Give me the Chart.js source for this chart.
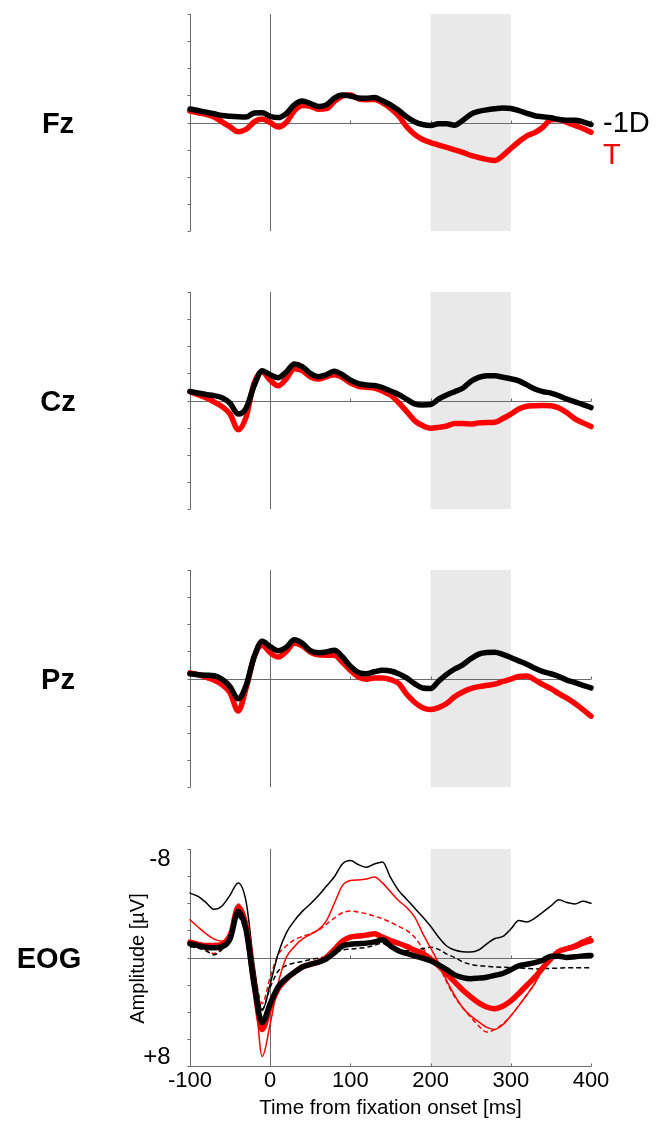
<!DOCTYPE html>
<html>
<head>
<meta charset="utf-8">
<script src="https://cdn.jsdelivr.net/npm/chart.js@4/dist/chart.umd.min.js"></script>
<style>
  html, body { margin: 0; padding: 0; background: #fff; }
  body { width: 667px; height: 1121px; position: relative; overflow: hidden; }
  canvas { position: absolute; left: 0; }
</style>
</head>
<body>
<canvas id="fz" width="667" height="245" style="top:0px"></canvas>
<canvas id="cz" width="667" height="245" style="top:278px"></canvas>
<canvas id="pz" width="667" height="245" style="top:556px"></canvas>
<canvas id="eog" width="667" height="286" style="top:835px"></canvas>
<script>
// time axis (ms from fixation onset), one value every 10 ms
const times = [-100, -90, -80, -70, -60, -50, -40, -30, -20, -10,
  0, 10, 20, 30, 40, 50, 60, 70, 80, 90,
  100, 110, 120, 130, 140, 150, 160, 170, 180, 190,
  200, 210, 220, 230, 240, 250, 260, 270, 280, 290,
  300, 310, 320, 330, 340, 350, 360, 370, 380, 390, 400];

const xTicks = [-100, 0, 100, 200, 300, 400];
const yTicks = [-8, -6, -4, -2, 0, 2, 4, 6, 8];
const windowStart = 200;
const windowEnd = 300;

// amplitudes in µV (negative up)
const fzOneD = [-1.0, -0.88, -0.76, -0.64, -0.52, -0.46, -0.42, -0.4, -0.7, -0.72,
  -0.46, -0.36, -0.66, -1.3, -1.58, -1.4, -1.18, -1.3, -1.8, -2.02,
  -1.95, -1.8, -1.78, -1.85, -1.6, -1.3, -0.9, -0.42, -0.05, 0.15,
  0.22, 0.1, 0.1, 0.2, -0.15, -0.6, -0.82, -0.93, -1.01, -1.07,
  -1.03, -0.88, -0.68, -0.5, -0.42, -0.35, -0.22, -0.17, -0.17, -0.05, 0.15];
const fzT = [-0.85, -0.72, -0.6, -0.4, -0.05, 0.32, 0.68, 0.5, -0.05, -0.25,
  0.0, 0.33, 0.0, -0.85, -1.25, -1.2, -0.98, -1.02, -1.55, -1.95,
  -2.02, -1.75, -1.68, -1.7, -1.45, -1.05, -0.5, 0.3, 0.88, 1.25,
  1.48, 1.66, 1.84, 2.02, 2.2, 2.42, 2.58, 2.72, 2.8, 2.45,
  1.92, 1.42, 0.98, 0.75, 0.35, -0.2, -0.22, 0.0, 0.22, 0.44, 0.72];

const czOneD = [-0.66, -0.55, -0.44, -0.36, -0.2, 0.2, 1.0, 0.56, -1.1, -2.2,
  -1.9, -1.68, -2.1, -2.7, -2.5, -2.0, -1.75, -1.9, -2.15, -1.9,
  -1.5, -1.25, -1.15, -1.1, -0.95, -0.7, -0.45, -0.1, 0.25, 0.33,
  0.3, -0.1, -0.4, -0.65, -0.9, -1.4, -1.7, -1.83, -1.82, -1.72,
  -1.6, -1.45, -1.15, -0.85, -0.65, -0.55, -0.35, -0.1, 0.1, 0.3, 0.52];
const czT = [-0.66, -0.42, -0.2, 0.1, 0.45, 1.0, 2.15, 1.2, -1.3, -2.1,
  -1.5, -1.08, -1.6, -2.35, -2.2, -1.75, -1.58, -1.75, -1.9, -1.7,
  -1.3, -1.05, -0.98, -0.92, -0.7, -0.4, 0.15, 0.8, 1.48, 1.85,
  2.04, 1.98, 1.88, 1.7, 1.7, 1.74, 1.65, 1.62, 1.6, 1.33,
  1.0, 0.62, 0.42, 0.38, 0.36, 0.38, 0.55, 0.9, 1.35, 1.65, 1.92];

const pzOneD = [-0.35, -0.28, -0.24, -0.2, 0.05, 0.6, 1.5, 0.5, -1.6, -2.75,
  -2.35, -2.05, -2.3, -2.85, -2.6, -2.05, -1.9, -1.95, -2.08, -1.6,
  -0.9, -0.45, -0.35, -0.5, -0.6, -0.55, -0.35, -0.05, 0.38, 0.7,
  0.74, 0.2, -0.3, -0.7, -1.0, -1.45, -1.8, -1.92, -1.94, -1.78,
  -1.55, -1.3, -1.05, -0.75, -0.5, -0.35, -0.15, 0.12, 0.3, 0.5, 0.69];
const pzT = [-0.42, -0.28, -0.1, 0.12, 0.45, 1.05, 2.4, 0.7, -1.6, -2.45,
  -1.9, -1.58, -2.0, -2.6, -2.4, -1.95, -1.75, -1.72, -1.72, -1.2,
  -0.6, -0.1, 0.05, -0.03, -0.03, 0.08, 0.35, 1.15, 1.75, 2.15,
  2.28, 2.15, 1.85, 1.35, 1.0, 0.75, 0.6, 0.5, 0.42, 0.22,
  0.05, -0.15, -0.18, 0.1, 0.45, 0.75, 1.12, 1.45, 1.85, 2.3, 2.78];

const eogOneD = [-1.01, -0.88, -0.76, -0.72, -0.8, -1.38, -3.4, -2.0, 2.0, 4.8,
  3.4, 2.15, 1.55, 1.1, 0.7, 0.5, 0.35, 0.1, -0.35, -0.85,
  -0.98, -1.02, -1.06, -1.15, -1.3, -0.85, -0.5, -0.3, -0.12, 0.05,
  0.24, 0.55, 0.9, 1.28, 1.48, 1.57, 1.52, 1.45, 1.32, 1.18,
  0.9, 0.62, 0.5, 0.38, 0.2, -0.1, -0.1, 0.0, -0.05, -0.12, -0.15];
const eogT = [-1.13, -0.98, -0.88, -0.88, -0.95, -1.5, -3.7, -2.3, 2.0, 5.3,
  3.65, 2.3, 1.6, 1.1, 0.7, 0.5, 0.35, 0.0, -0.6, -1.2,
  -1.5, -1.58, -1.65, -1.75, -1.5, -1.25, -1.05, -0.82, -0.55, -0.3,
  0.1, 0.6, 1.2, 1.8, 2.4, 2.9, 3.35, 3.65, 3.78, 3.6,
  3.2, 2.65, 2.05, 1.45, 0.75, 0.1, -0.45, -0.65, -0.8, -1.05, -1.25];
const eogOneDThin = [-4.75, -4.5, -4.05, -3.55, -3.8, -4.6, -5.5, -4.1, 0.6, 3.9,
  1.95, -0.3, -1.8, -2.7, -3.4, -3.95, -4.55, -5.25, -5.95, -6.9,
  -7.15, -6.85, -6.65, -6.9, -7.05, -5.9, -4.95, -4.3, -3.65, -3.0,
  -2.3, -1.5, -0.85, -0.55, -0.42, -0.4, -0.55, -1.0, -1.4, -1.55,
  -2.1, -2.72, -2.62, -2.9, -3.35, -3.8, -4.25, -4.05, -3.95, -4.15, -4.0];
const eogTThin = [-2.78, -2.25, -1.75, -1.35, -1.2, -2.0, -3.95, -2.5, 1.5, 7.3,
  4.9, 1.9, 0.0, -0.8, -1.35, -1.7, -2.05, -2.7, -4.0, -5.3,
  -5.68, -5.72, -5.78, -5.93, -5.5, -4.85, -4.2, -3.7, -3.0, -1.8,
  -0.7, 0.4, 1.7, 2.8, 3.7, 4.3, 4.75, 5.15, 5.3, 4.95,
  4.3, 3.55, 2.75, 1.9, 0.85, 0.1, -0.4, -0.75, -1.0, -1.3, -1.55];
const eogOneDDash = [-0.8, -0.7, -0.5, -0.2, -0.6, -1.4, -3.0, -1.6, 1.5, 3.8,
  2.2, 1.0, 0.6, 0.4, 0.3, 0.15, 0.05, -0.1, -0.35, -0.55,
  -0.62, -0.68, -0.75, -0.9, -1.06, -0.7, -0.42, -0.5, -0.57, -0.65,
  -0.75, -0.6, -0.25, 0.0, 0.32, 0.5, 0.6, 0.65, 0.7, 0.72,
  0.74, 0.76, 0.8, 0.84, 0.82, 0.8, 0.78, 0.76, 0.76, 0.76, 0.76];
const eogTDash = [-1.13, -0.92, -0.55, -0.3, -0.7, -1.6, -3.0, -1.6, 0.96, 3.4,
  1.45, -0.2, -0.85, -1.3, -1.55, -1.75, -2.0, -2.45, -2.9, -3.3,
  -3.42, -3.35, -3.22, -3.05, -2.85, -2.6, -2.3, -2.0, -1.5, -0.7,
  0.0, 0.6, 1.8, 2.9, 3.7, 4.4, 5.05, 5.5, 5.3, 4.9,
  4.3, 3.55, 2.75, 1.9, 0.85, 0.1, -0.4, -0.75, -1.0, -1.3, -1.5];

const AXIS = "#6b6b6b";
const FONT = "'Liberation Sans', Arial, sans-serif";

const decor = {
  id: "eegDecor",
  beforeDatasetsDraw(chart, args, o) {
    const { ctx, chartArea: a, scales: { x, y } } = chart;
    const left = Math.round(x.getPixelForValue(-100)) + 0.5;
    const right = x.getPixelForValue(400);
    const z = Math.round(y.getPixelForValue(0)) + 0.5;
    ctx.save();

    // analysis window
    const s0 = x.getPixelForValue(windowStart);
    const s1 = x.getPixelForValue(windowEnd);
    ctx.fillStyle = "#e9e9e9";
    ctx.fillRect(s0, a.top, s1 - s0, a.bottom - a.top);

    ctx.strokeStyle = AXIS;
    ctx.lineWidth = 1;
    ctx.beginPath();
    ctx.moveTo(left, y.getPixelForValue(-8));
    ctx.lineTo(left, y.getPixelForValue(8));
    yTicks.forEach((v) => {
      const p = Math.round(y.getPixelForValue(v)) + 0.5;
      ctx.moveTo(left - 3, p);
      ctx.lineTo(left, p);
    });
    ctx.moveTo(left, z);
    ctx.lineTo(right, z);
    xTicks.filter((v) => v > 0).forEach((v) => {
      const p = Math.round(x.getPixelForValue(v)) + 0.5;
      ctx.moveTo(p, z);
      ctx.lineTo(p, z - 3);
    });
    const onset = Math.round(x.getPixelForValue(0)) + 0.5;
    ctx.moveTo(onset, a.top);
    ctx.lineTo(onset, a.bottom);
    if (o.bottomAxis) {
      const b = Math.round(a.bottom) + 0.5;
      ctx.moveTo(left, b);
      ctx.lineTo(right, b);
      xTicks.forEach((v) => {
        const p = Math.round(x.getPixelForValue(v)) + 0.5;
        ctx.moveTo(p, b);
        ctx.lineTo(p, b - 3);
      });
    }
    ctx.stroke();

    // channel name
    ctx.fillStyle = "#000";
    ctx.font = "bold 29px " + FONT;
    ctx.textAlign = "center";
    ctx.textBaseline = "middle";
    ctx.fillText(o.label, o.labelX, z + 1);

    if (o.bottomAxis) {
      ctx.font = "24px " + FONT;
      ctx.textAlign = "right";
      ctx.fillText("-8", left - 20, y.getPixelForValue(-8) + 10);
      ctx.fillText("+8", left - 20, y.getPixelForValue(8) - 9);
      ctx.save();
      ctx.translate(138, z);
      ctx.rotate(-Math.PI / 2);
      ctx.font = "20px " + FONT;
      ctx.textAlign = "center";
      ctx.fillText("Amplitude [\u00B5V]", 0, 0);
      ctx.restore();
    }
    if (o.legend) {
      ctx.font = "29px " + FONT;
      ctx.textAlign = "left";
      ctx.fillStyle = "#000";
      ctx.fillText("-1D", right + 12, z);
      ctx.fillStyle = "#ff0000";
      ctx.fillText("T", right + 12, z + 32);
    }
    ctx.restore();
  },
};

function series(values, color, width, dash) {
  return {
    data: times.map((t, i) => ({ x: t, y: values[i] })),
    borderColor: color,
    borderWidth: width,
    borderDash: dash || [],
    borderCapStyle: dash ? "butt" : "round",
    borderJoinStyle: "round",
    pointRadius: 0,
    cubicInterpolationMode: "monotone",
    fill: false,
    clip: false,
  };
}

function makePanel(id, datasets, deco) {
  const bottom = !!deco.bottomAxis;
  const xScale = {
    type: "linear",
    min: -100,
    max: 400,
    display: bottom,
  };
  if (bottom) {
    Object.assign(xScale, {
      afterBuildTicks: (s) => { s.ticks = xTicks.map((v) => ({ value: v })); },
      afterFit: (s) => { s.height = 55; },
      grid: { display: false, drawTicks: false },
      border: { display: false },
      ticks: { color: "#000", font: { family: FONT, size: 22 }, padding: 2, maxRotation: 0 },
      title: {
        display: true,
        text: "Time from fixation onset [ms]",
        color: "#000",
        font: { family: FONT, size: 20.5 },
        padding: { top: 0, bottom: 0 },
      },
    });
  }
  return new Chart(document.getElementById(id), {
    type: "line",
    data: { datasets },
    plugins: [decor],
    options: {
      responsive: false,
      animation: false,
      layout: { padding: { left: 190, right: 76, top: 14, bottom: bottom ? 0 : 14 } },
      scales: {
        x: xScale,
        y: { type: "linear", min: -8, max: 8, reverse: true, display: false },
      },
      plugins: { legend: { display: false }, tooltip: { enabled: false }, eegDecor: deco },
    },
  });
}

makePanel("fz", [series(fzOneD, "#000", 5.5), series(fzT, "#ff0000", 5.5)],
  { label: "Fz", labelX: 58, legend: true });
makePanel("cz", [series(czOneD, "#000", 5.5), series(czT, "#ff0000", 5.5)],
  { label: "Cz", labelX: 58 });
makePanel("pz", [series(pzOneD, "#000", 5.5), series(pzT, "#ff0000", 5.5)],
  { label: "Pz", labelX: 58 });
makePanel("eog", [
  series(eogOneD, "#000", 5.5),
  series(eogT, "#ff0000", 5.5),
  series(eogOneDThin, "#000", 1.5),
  series(eogTThin, "#ff0000", 1.5),
  series(eogOneDDash, "#000", 1.5, [5, 3]),
  series(eogTDash, "#ff0000", 1.5, [5, 3]),
], { label: "EOG", labelX: 49, bottomAxis: true });
</script>
</body>
</html>
